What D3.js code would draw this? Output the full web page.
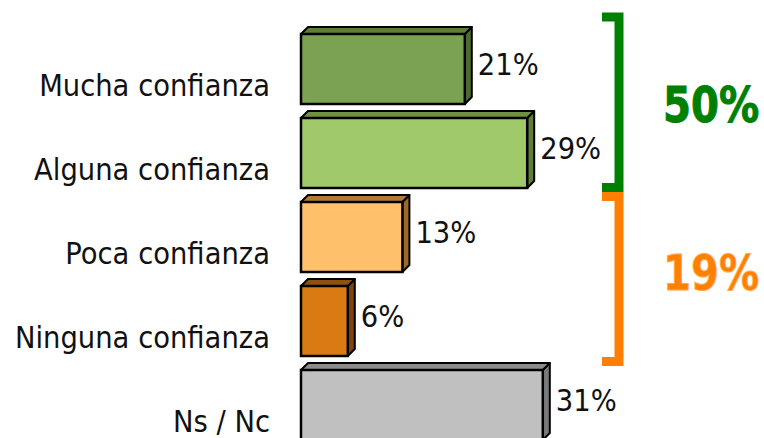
<!DOCTYPE html>
<html>
<head>
<meta charset="utf-8">
<script src="https://cdn.jsdelivr.net/npm/d3@7"></script>
<style>
  html, body { margin: 0; padding: 0; background: #fff; }
  svg { display: block; }
  text { font-family: "DejaVu Sans", Verdana, sans-serif; }
</style>
</head>
<body>
<script>
// Confidence levels and share of respondents (%)
const categories = ["Mucha confianza", "Alguna confianza", "Poca confianza", "Ninguna confianza", "Ns / Nc"];
const values = [21, 29, 13, 6, 31];
const frontColors = ["#7BA153", "#A0C96A", "#FFC06B", "#D97B12", "#C0C0C0"];
const sideColors  = ["#4E6B2E", "#5F7F36", "#9A6A2A", "#7E4408", "#7A7A7A"];
const topColors   = ["#5E7E3A", "#6F9040", "#B07C34", "#8F5010", "#8C8C8C"];

// Aggregated groups shown with brackets
const groupLabels = ["50%", "19%"];
const groupMembers = [[0, 1], [2, 3]];
const groupColors = ["#008000", "#FF8000"];
const groupOutline = ["#008000", "#FFA64D"];

const W = 764, H = 438, depth = 7;

const svg = d3.select("body").append("svg").attr("width", W).attr("height", H);

const y = d3.scaleBand().domain(categories).range([34, 440]).paddingInner(1 / 6);
const x = d3.scaleLinear().domain([0, 100]).range([301, 1081]);

const rows = categories.map((c, i) => ({ c, v: values[i], i }));

const bars = svg.append("g").selectAll("g").data(rows).join("g");

// side face
bars.append("path")
  .attr("d", d => {
    const x1 = x(d.v), y0 = y(d.c), y1 = y0 + y.bandwidth();
    return `M${x1},${y0}L${x1 + depth},${y0 - depth}L${x1 + depth},${y1 - depth}L${x1},${y1}Z`;
  })
  .attr("fill", d => sideColors[d.i])
  .attr("stroke", "#000").attr("stroke-width", 2).attr("stroke-linejoin", "round");

// top face
bars.append("path")
  .attr("d", d => {
    const x0 = x(0), x1 = x(d.v), y0 = y(d.c);
    return `M${x0},${y0}L${x0 + depth},${y0 - depth}L${x1 + depth},${y0 - depth}L${x1},${y0}Z`;
  })
  .attr("fill", d => topColors[d.i])
  .attr("stroke", "#000").attr("stroke-width", 2).attr("stroke-linejoin", "round");

// front face
bars.append("rect")
  .attr("x", x(0))
  .attr("y", d => y(d.c))
  .attr("width", d => x(d.v) - x(0))
  .attr("height", y.bandwidth())
  .attr("fill", d => frontColors[d.i])
  .attr("stroke", "#000").attr("stroke-width", 2.5);

// value labels (slightly condensed)
bars.append("text")
  .attr("transform", d => `translate(${x(d.v) + depth + 6},${y(d.c) + 41}) scale(0.93,1)`)
  .attr("font-size", 29.5)
  .attr("fill", "#111")
  .text(d => d.v + "%");

// category labels (slightly condensed)
bars.append("text")
  .attr("transform", d => `translate(270,${y(d.c) + 62}) scale(0.93,1)`)
  .attr("text-anchor", "end")
  .attr("font-size", 29.5)
  .attr("fill", "#111")
  .text(d => d.c);

// group brackets and totals
groupMembers.forEach((m, gi) => {
  const first = categories[m[0]], last = categories[m[m.length - 1]];
  const top = gi === 0 ? y(first) - 17 : y(first) - 5.5;
  const bottom = gi === 0 ? y(last) + y.bandwidth() - 0.5 : y(last) + y.bandwidth() + 5.5;
  const bx = 619;
  svg.append("path")
    .attr("d", `M602,${top}H${bx}V${bottom}H602`)
    .attr("fill", "none")
    .attr("stroke", groupColors[gi])
    .attr("stroke-width", 9)
    .attr("stroke-linejoin", "miter");

  svg.append("text")
    .attr("transform", `translate(663,${gi === 0 ? 122 : 290}) scale(0.82,1)`)
    .attr("font-size", 49)
    .attr("font-weight", "bold")
    .attr("fill", groupColors[gi])
    .attr("stroke", groupOutline[gi])
    .attr("stroke-width", 1)
    .text(groupLabels[gi]);
});
</script>
</body>
</html>
